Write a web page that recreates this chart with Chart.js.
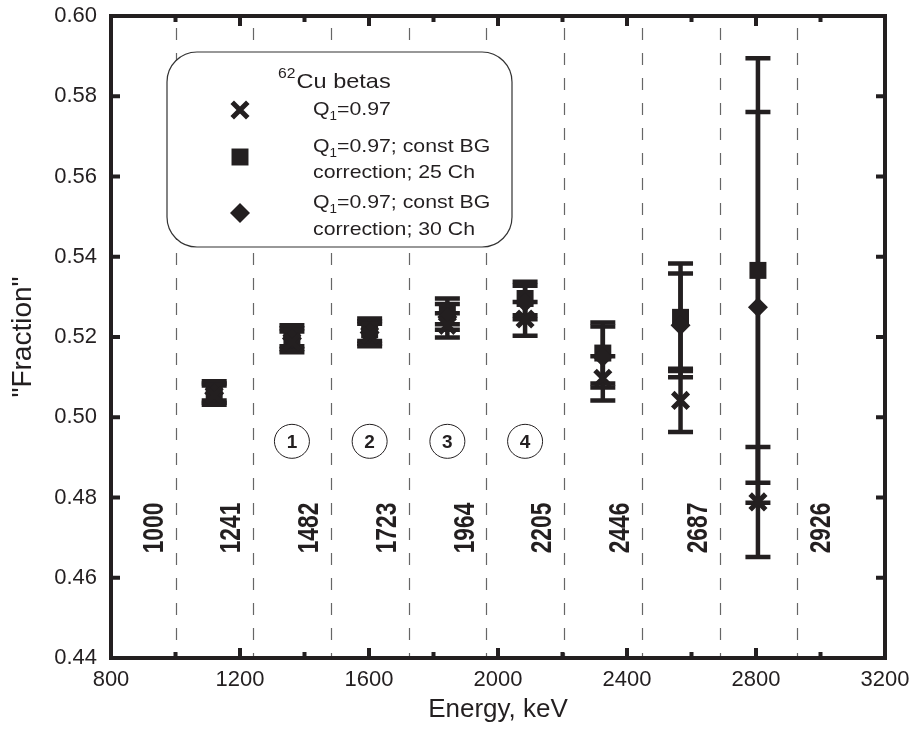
<!DOCTYPE html>
<html>
<head>
<meta charset="utf-8">
<script src="https://cdn.jsdelivr.net/npm/chart.js@4.4.1/dist/chart.umd.min.js"></script>
<style>
html, body { margin: 0; padding: 0; background: #fff; }
</style>
</head>
<body>
<canvas id="grafico" width="911" height="733"></canvas>
<script>
// Datos
var energia = [1120, 1361, 1602, 1843, 2084, 2325, 2566, 2806];
var fraccion_q1 = [0.5055, 0.5188, 0.5205, 0.5229, 0.5245, 0.5097, 0.5042, 0.4789];
var error_q1 = [0.0024, 0.0026, 0.0028, 0.0030, 0.0042, 0.0055, 0.0079, 0.0137];
var fraccion_25ch = [0.5066, 0.5203, 0.5218, 0.5264, 0.5296, 0.5160, 0.5249, 0.5366];
var error_25ch = [0.0024, 0.0026, 0.0028, 0.0032, 0.0042, 0.0076, 0.0134, 0.0529];
var fraccion_30ch = [0.5060, 0.5196, 0.5211, 0.5250, 0.5286, 0.5150, 0.5229, 0.5274];
var error_30ch = [0.0024, 0.0026, 0.0028, 0.0032, 0.0042, 0.0076, 0.0129, 0.0487];

var limites = [1000, 1241, 1482, 1723, 1964, 2205, 2446, 2687, 2926];
var limite_y_etiqueta = 0.4724;
var circulos = ['1', '2', '3', '4'];
var circulos_x = [1361, 1602, 1843, 2084];
var circulos_y = 0.4940;

var ticks_x = [800, 1200, 1600, 2000, 2400, 2800, 3200];
var ticks_y = [0.44, 0.46, 0.48, 0.50, 0.52, 0.54, 0.56, 0.58, 0.60];

var leyenda = [
	['Q', '1', '=0.97'],
	['Q', '1', '=0.97; const BG', 'correction; 25 Ch'],
	['Q', '1', '=0.97; const BG', 'correction; 30 Ch']
];

var NEGRO = '#231f20';
var FUENTE = "'Liberation Sans', Arial, sans-serif";

function puntos(valores) {
	return energia.map(function(e, i){ return {x: e, y: valores[i]}; });
}

var errores = [error_q1, error_30ch, error_25ch];

var pluginFondo = {
	id: 'fondo',
	beforeDatasetsDraw: function(chart){
		var ctx = chart.ctx, xs = chart.scales.x, ys = chart.scales.y, a = chart.chartArea;
		ctx.save();
		// lineas de limites
		ctx.strokeStyle = '#666';
		ctx.lineWidth = 1.2;
		ctx.setLineDash([12, 13]);
		limites.forEach(function(v){
			var px = Math.round(xs.getPixelForValue(v)) + 0.5;
			ctx.beginPath();
			ctx.moveTo(px, a.top + 12);
			ctx.lineTo(px, a.bottom);
			ctx.stroke();
		});
		ctx.setLineDash([]);
		// etiquetas verticales (la ultima va a la derecha de su linea)
		ctx.fillStyle = NEGRO;
		ctx.font = "bold 30px " + FUENTE;
		ctx.textAlign = 'center';
		ctx.textBaseline = 'middle';
		limites.forEach(function(v, i){
			var lado = (i === limites.length - 1) ? 24 : -22;
			var px = xs.getPixelForValue(v) + lado;
			var py = ys.getPixelForValue(limite_y_etiqueta);
			ctx.save();
			ctx.translate(px, py);
			ctx.rotate(-Math.PI / 2);
			ctx.scale(0.76, 1);
			ctx.fillText(String(v), 0, 1);
			ctx.restore();
		});
		// circulos numerados
		ctx.lineWidth = 1;
		ctx.strokeStyle = NEGRO;
		ctx.font = "bold 19px " + FUENTE;
		circulos.forEach(function(t, i){
			var px = xs.getPixelForValue(circulos_x[i]);
			var py = ys.getPixelForValue(circulos_y);
			ctx.beginPath();
			ctx.ellipse(px, py, 17.5, 17, 0, 0, Math.PI * 2);
			ctx.stroke();
			ctx.fillText(t, px, py + 1);
		});
		// barras de error
		ctx.lineWidth = 4.5;
		ctx.strokeStyle = NEGRO;
		chart.data.datasets.forEach(function(ds, k){
			ds.data.forEach(function(p, i){
				var px = xs.getPixelForValue(p.x);
				var y1 = ys.getPixelForValue(p.y + errores[k][i]);
				var y2 = ys.getPixelForValue(p.y - errores[k][i]);
				ctx.beginPath();
				ctx.moveTo(px, y1); ctx.lineTo(px, y2);
				ctx.moveTo(px - 12.5, y1); ctx.lineTo(px + 12.5, y1);
				ctx.moveTo(px - 12.5, y2); ctx.lineTo(px + 12.5, y2);
				ctx.stroke();
			});
		});
		ctx.restore();
	},
	afterDraw: function(chart){
		var ctx = chart.ctx, xs = chart.scales.x, ys = chart.scales.y, a = chart.chartArea;
		ctx.save();
		// marco
		ctx.strokeStyle = NEGRO;
		ctx.lineWidth = 4;
		ctx.strokeRect(a.left, a.top, a.right - a.left, a.bottom - a.top);
		// marcas hacia adentro
		ctx.lineWidth = 4;
		ctx.beginPath();
		for (var v = 800; v <= 3200; v += 200) {
			var px = xs.getPixelForValue(v);
			var l = (v % 400 === 0) ? 10 : 6;
			ctx.moveTo(px, a.bottom); ctx.lineTo(px, a.bottom - l);
			ctx.moveTo(px, a.top); ctx.lineTo(px, a.top + l);
		}
		ticks_y.forEach(function(v){
			var py = ys.getPixelForValue(v);
			ctx.moveTo(a.left, py); ctx.lineTo(a.left + 9, py);
			ctx.moveTo(a.right, py); ctx.lineTo(a.right - 9, py);
		});
		ctx.stroke();

		// leyenda
		var bx = 167, by = 52, bw = 345, bh = 195, r = 30;
		ctx.lineWidth = 1.2;
		ctx.strokeStyle = '#333';
		ctx.fillStyle = '#fff';
		ctx.beginPath();
		ctx.roundRect(bx, by, bw, bh, r);
		ctx.fill();
		ctx.stroke();

		ctx.fillStyle = NEGRO;
		ctx.textAlign = 'left';
		ctx.textBaseline = 'alphabetic';
		var sx = 1.12;
		ctx.save();
		ctx.translate(278, 88);
		ctx.scale(sx, 1);
		ctx.font = "14px " + FUENTE;
		ctx.fillText('62', 0, -10);
		var w62 = ctx.measureText('62').width;
		ctx.font = "21px " + FUENTE;
		ctx.fillText('Cu betas', w62 + 1, 0);
		ctx.restore();

		var marcas = [
			{pointStyle: 'crossRot', radius: 11, borderWidth: 5, rotation: 0},
			{pointStyle: 'rect', radius: 12, borderWidth: 0, rotation: 0},
			{pointStyle: 'rectRot', radius: 10, borderWidth: 0, rotation: 0}
		];
		var marca_y = [110, 157, 213];
		var texto_y = [[115], [152, 178], [208, 235]];
		ctx.strokeStyle = NEGRO;
		marcas.forEach(function(m, i){
			ctx.lineWidth = 5;
			Chart.helpers.drawPoint(ctx, m, 240, marca_y[i]);
			var t = leyenda[i];
			ctx.save();
			ctx.translate(313, texto_y[i][0]);
			ctx.scale(sx, 1);
			ctx.font = "19px " + FUENTE;
			ctx.fillText(t[0], 0, 0);
			var w = ctx.measureText(t[0]).width;
			ctx.font = "12px " + FUENTE;
			ctx.fillText(t[1], w, 5);
			var w2 = ctx.measureText(t[1]).width;
			ctx.font = "19px " + FUENTE;
			ctx.fillText(t[2], w + w2, 0);
			if (t[3]) ctx.fillText(t[3], 0, texto_y[i][1] - texto_y[i][0]);
			ctx.restore();
		});
		ctx.restore();
	}
};

var datos = {
	type: 'scatter',
	data: {
		datasets: [
			{
				label: 'Q1=0.97',
				data: puntos(fraccion_q1),
				pointStyle: 'crossRot',
				pointRadius: 11,
				pointBorderWidth: 5,
				borderColor: NEGRO,
				backgroundColor: NEGRO
			},
			{
				label: 'Q1=0.97; const BG correction; 30 Ch',
				data: puntos(fraccion_30ch),
				pointStyle: 'rectRot',
				pointRadius: 10,
				pointBorderWidth: 0,
				borderColor: NEGRO,
				backgroundColor: NEGRO
			},
			{
				label: 'Q1=0.97; const BG correction; 25 Ch',
				data: puntos(fraccion_25ch),
				pointStyle: 'rect',
				pointRadius: 12,
				pointBorderWidth: 0,
				borderColor: NEGRO,
				backgroundColor: NEGRO
			}
		]
	},
	options: {
		responsive: false,
		devicePixelRatio: 1,
		animation: false,
		layout: { padding: { top: 15, right: 26, left: 0, bottom: 0 } },
		plugins: { legend: { display: false }, tooltip: { enabled: false } },
		scales: {
			x: {
				type: 'linear',
				min: 800, max: 3200,
				afterBuildTicks: function(s){ s.ticks = ticks_x.map(function(v){ return {value: v}; }); },
				afterFit: function(s){ s.height = 75; s.paddingLeft = 0; s.paddingRight = 0; },
				ticks: { color: NEGRO, font: { family: FUENTE, size: 22 }, padding: 9, maxRotation: 0,
					callback: function(v){ return String(v); } },
				grid: { display: false, drawTicks: false },
				border: { display: false },
				title: { display: true, text: 'Energy, keV', color: NEGRO, font: { family: FUENTE, size: 26 }, padding: { top: 0, bottom: 8 } }
			},
			y: {
				min: 0.44, max: 0.60,
				afterBuildTicks: function(s){ s.ticks = ticks_y.map(function(v){ return {value: v}; }); },
				afterFit: function(s){ s.width = 111; s.paddingTop = 0; s.paddingBottom = 0; },
				ticks: { color: NEGRO, font: { family: FUENTE, size: 22 }, padding: 14, callback: function(v){ return v.toFixed(2); } },
				grid: { display: false, drawTicks: false },
				border: { display: false },
				title: { display: true, text: '"Fraction"', color: NEGRO, font: { family: FUENTE, size: 28 }, padding: { top: 6, bottom: 0 } }
			}
		}
	},
	plugins: [pluginFondo]
};

var canvas = document.getElementById('grafico').getContext('2d');
window.grafico = new Chart(canvas, datos);
</script>
</body>
</html>
